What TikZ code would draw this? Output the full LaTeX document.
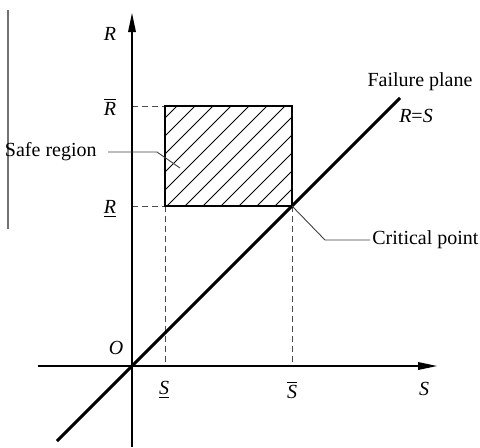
\documentclass[tikz,border=0pt]{standalone}
\usepackage{fontspec}
\setmainfont{Liberation Serif}
\usetikzlibrary{arrows.meta,positioning}
\tikzset{
  axis/.style={line width=1.3pt,-{Triangle[length=10pt,width=3.6pt]}},
  failline/.style={line width=1.5pt},
  safebox/.style={line width=1.3pt},
  guide/.style={densely dashed,line width=0.4pt,black!70},
  hatch/.style={line width=0.4pt},
  leader/.style={line width=0.45pt,black!75},
  lbl/.style={font=\fontsize{10pt}{12pt}\selectfont,inner sep=1pt},
  sidebar/.style={line width=0.9pt,black!55}
}

\begin{document}
\begin{tikzpicture}[x=0.5pt,y=0.5pt]
  \useasboundingbox (-132,-81) rectangle (348,366);
  \coordinate (O) at (0,0);
  \coordinate (sl) at (33,0);
  \coordinate (su) at (160,0);
  \coordinate (rl) at (0,160);
  \coordinate (ru) at (0,260);
  \coordinate (boxsw) at (33,160);
  \coordinate (boxne) at (160,260);
  \coordinate (boxse) at (160,160);
  \coordinate (boxnw) at (33,260);
  \begin{scope}
    \clip (boxsw) rectangle (boxne);
    \foreach \x in {-55,-37,...,143}
      \draw[hatch] (\x,160) -- ++(100,100);
  \end{scope}
  \draw[guide] (ru) -- (boxnw);
  \draw[guide] (rl) -- (boxsw);
  \draw[guide] (boxsw) -- (sl);
  \draw[guide] (boxse) -- (su);
  \draw[safebox] (boxsw) rectangle (boxne);
  \draw[axis] (0,-81) -- (0,354) coordinate (ytip);
  \draw[axis] (-94,0) -- (306,0) coordinate (xtip);
  \draw[failline] (-75,-75) -- (268,268) coordinate (ftop);
  \draw[sidebar] (-124,356) -- (-124,137);
  \node[lbl] (Rlab) at (-22,332) {\textit{R}};
  \node[lbl] (Rbar) at (-22,259) {$\overline{\textit{R}}$};
  \node[lbl] (Rund) at (-22,157) {\underline{\textit{R}}};
  \node[lbl] (Olab) at (-16,18) {\textit{O}};
  \node[lbl] (Sund) at (32,-24) {\underline{\textit{S}}};
  \node[lbl] (Sbar) at (160,-24) {$\overline{\textit{S}}$};
  \node[lbl] (Slab) at (292,-23) {\textit{S}};
  \node[lbl] (fail) at (288,284) {Failure plane};
  \node[lbl] (eq) at (284,250) {\textit{R}=\textit{S}};
  \node[lbl,anchor=east] (safe) at (-33,214) {Safe region};
  \coordinate (safemid) at (25,214);
  \coordinate (safeend) at (48,198);
  \draw[leader] (-24,214) -- (safemid) -- (safeend);
  \node[lbl,anchor=west] (crit) at (238,126) {Critical point};
  \coordinate (critmid) at (193,126);
  \draw[leader] (boxse) -- (critmid) -- (crit.west);
\end{tikzpicture}
\end{document}
